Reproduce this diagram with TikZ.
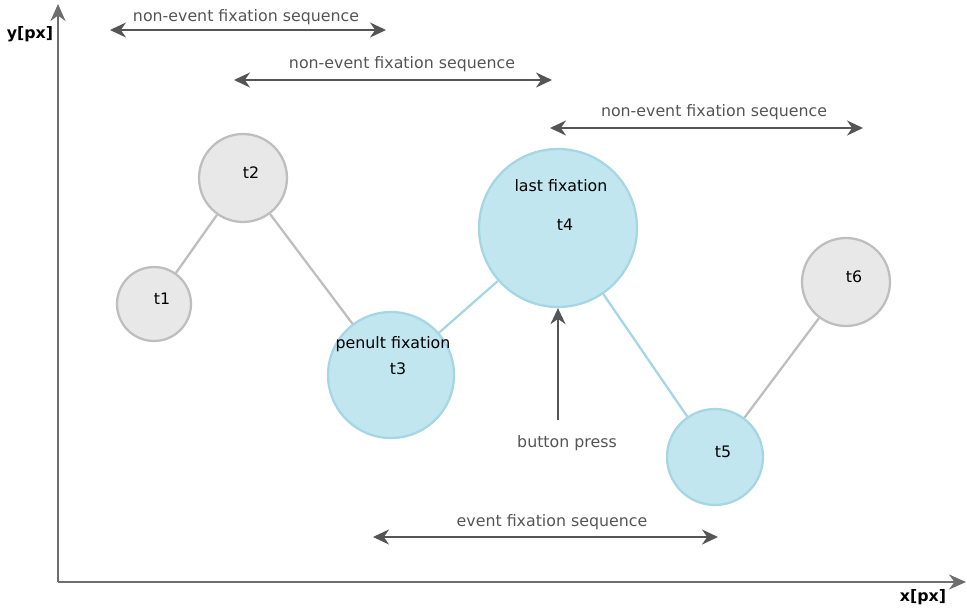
\documentclass[tikz,border=0pt]{standalone}
\usepackage{fontspec}
\setmainfont{DejaVu Sans}
\usetikzlibrary{
  arrows.meta
}
\definecolor{fixgray}{RGB}{232,232,232}
\definecolor{fixgrayline}{RGB}{190,190,190}
\definecolor{fixblue}{RGB}{193,230,240}
\definecolor{fixblueline}{RGB}{166,214,228}
\definecolor{arrowgray}{RGB}{85,85,85}
\tikzset{
  axis line/.style={
    line width=1.2pt,
    draw=arrowgray!85,
    -{Stealth[length=3.4mm,width=3mm]}
  },
  span arrow/.style={
    line width=1.2pt,
    draw=arrowgray,
    {Stealth[length=3.2mm,width=3mm]}-{Stealth[length=3.2mm,width=3mm]}
  },
  press arrow/.style={
    line width=1.2pt,
    draw=arrowgray,
    -{Stealth[length=3.2mm,width=3mm]}
  },
  fixation/.style={
    circle,
    line width=1.3pt,
    draw=fixgrayline,
    fill=fixgray,
    inner sep=0pt
  },
  event fixation/.style={
    fixation,
    draw=fixblueline,
    fill=fixblue
  },
  saccade/.style={
    line width=1.3pt,
    draw=fixgrayline
  },
  event saccade/.style={
    line width=1.3pt,
    draw=fixblueline
  },
  span label/.style={
    text=arrowgray,
    font=\fontsize{9}{11}\selectfont
  },
  fix label/.style={
    text=black,
    font=\fontsize{9}{11}\selectfont
  },
  axis label/.style={
    text=black,
    font=\fontsize{9}{11}\selectfont\bfseries
  }
}
\begin{document}
\begin{tikzpicture}[x=0.02cm,y=-0.02cm]
    \useasboundingbox (0,0) rectangle (967,609);

    % ---------- axes ----------
    \coordinate (origin) at (58,582);
    \coordinate (ytip) at (58,4);
    \coordinate (xtip) at (966,582);
    \draw[axis line] (origin) -- (ytip);
    \draw[axis line] (origin) -- (xtip);
    \node[axis label] (ylab) at (30,34) {y[px]};
    \node[axis label] (xlab) at (923,597) {x[px]};

    % ---------- fixations ----------
    \node[fixation, minimum size=1.48cm] (t1) at (154,304) {};
    \node[fixation, minimum size=1.76cm] (t2) at (243,178) {};
    \node[event fixation, minimum size=2.52cm] (t3) at (391,375) {};
    \node[event fixation, minimum size=3.16cm] (t4) at (558,228) {};
    \node[event fixation, minimum size=1.92cm] (t5) at (715,457) {};
    \node[fixation, minimum size=1.76cm] (t6) at (846,282) {};

    % saccades
    \draw[saccade] (t1) -- (t2);
    \draw[saccade] (t2) -- (t3);
    \draw[event saccade] (t3) -- (t4);
    \draw[event saccade] (t4) -- (t5);
    \draw[saccade] (t5) -- (t6);

    % fixation texts
    \node[fix label] (t1txt) at (162,299) {t1};
    \node[fix label] (t2txt) at (251,173) {t2};
    \node[fix label] (t3name) at (393,344) {penult fixation};
    \node[fix label] (t3txt) at (398,369) {t3};
    \node[fix label] (t4name) at (561,186) {last fixation};
    \node[fix label] (t4txt) at (565,225) {t4};
    \node[fix label] (t5txt) at (723,452) {t5};
    \node[fix label] (t6txt) at (854,277) {t6};

    % ---------- sequences ----------
    \coordinate (s1a) at (110,30);
    \coordinate (s1b) at (386,30);
    \draw[span arrow] (s1a) -- (s1b);
    \node[span label] (s1lab) at (246,17) {non-event fixation sequence};

    \coordinate (s2a) at (234,80);
    \coordinate (s2b) at (552,80);
    \draw[span arrow] (s2a) -- (s2b);
    \node[span label] (s2lab) at (402,64) {non-event fixation sequence};

    \coordinate (s3a) at (550,128);
    \coordinate (s3b) at (863,128);
    \draw[span arrow] (s3a) -- (s3b);
    \node[span label] (s3lab) at (714,112) {non-event fixation sequence};

    \coordinate (s4a) at (373,537);
    \coordinate (s4b) at (718,537);
    \draw[span arrow] (s4a) -- (s4b);
    \node[span label] (s4lab) at (552,522) {event fixation sequence};

    % button press
    \coordinate (press) at (558,420);
    \draw[press arrow] (press) -- (t4.south);
    \node[span label] (presslab) at (567,443) {button press};

\end{tikzpicture}
\end{document}
